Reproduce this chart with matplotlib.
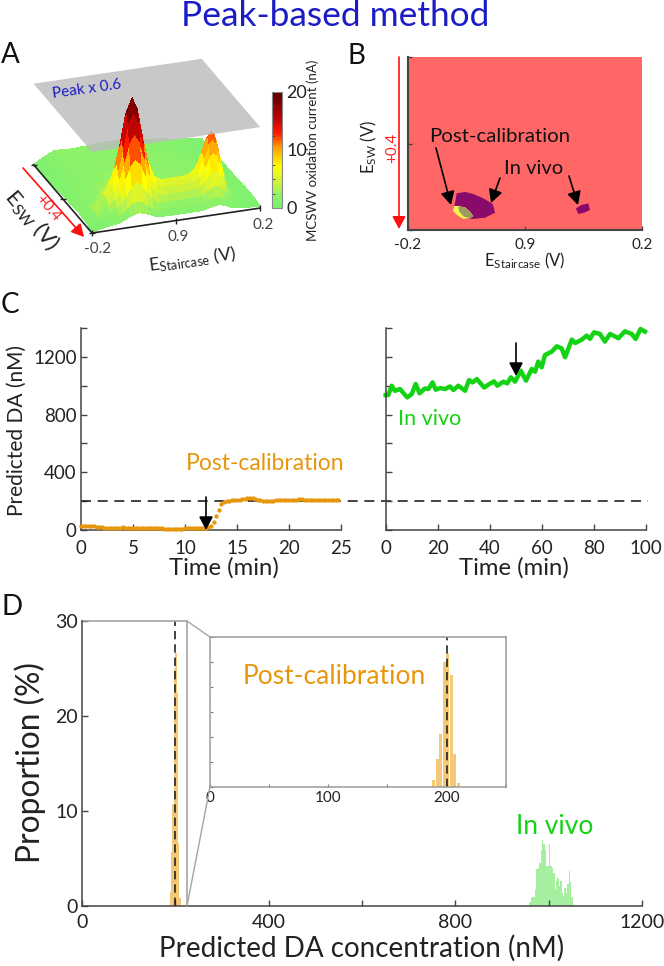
import numpy as np
import matplotlib
matplotlib.use('Agg')
import matplotlib.pyplot as plt
from matplotlib.colors import LinearSegmentedColormap, Normalize
from matplotlib.cm import ScalarMappable
from mpl_toolkits.mplot3d import proj3d

plt.rcParams['font.family'] = ['Lato', 'DejaVu Sans']
plt.rcParams['mathtext.default'] = 'regular'
plt.rcParams['axes.unicode_minus'] = False

W, H = 664, 966
fig = plt.figure(figsize=(W/100, H/100), dpi=100, facecolor='white')

# ---------------- data ----------------
surf_stair = [0, .06, .12, .16, .19, .22, .25, .28, .31, .34, .37, .41, .46, .52, .58, .63, .67, .70, .73, .75, .77, .79, .81, .84, .90, 1]
surf_sw = [0, .02, .04, .06, .08, .10, .12, .14, .16, .18, .20, .22, .25, .30, .36, .45, .6, .8, 1]
surf_current = [
 [.2,.5,.8,.95,1.3,1.7,2,2.2,2,1.7,1.3,1.05,1,1,1,1,1.1,1.3,1.5,1.6,1.5,1.3,1.1,.7,.5,.3],
 [.25,.7,1.5,1.9,2.4,3,3.7,4,3.7,3,2.4,1.9,1.8,1.8,1.8,1.8,2,2.3,2.7,2.8,2.7,2.3,1.8,.8,.55,.35],
 [.3,1,2.3,3.05,3.9,5.1,6.4,7,6.4,5.1,3.9,3,2.8,2.8,2.8,2.85,3.1,3.7,4.3,4.5,4.3,3.7,2.8,1.3,.7,.4],
 [.4,1.3,3.2,4.2,5.5,7.5,9.6,10.5,9.6,7.5,5.5,4.2,3.8,3.8,3.8,3.9,4.4,5.4,6.5,6.8,6.5,5.4,3.8,1.9,.8,.45],
 [.5,1.6,4,5.5,7.3,10.1,13.1,14.5,13.1,10.1,7.3,5.4,4.8,4.8,4.8,4.9,5.7,7.3,8.9,9.4,8.9,7.4,5.2,2.5,.9,.5],
 [.6,1.9,4.45,6.2,8.6,12.3,16.2,18,16.2,12.3,8.6,6.1,5.3,5.3,5.3,5.5,6.5,8.6,10.8,11.4,10.8,8.9,6.2,2.9,1,.6],
 [.7,2,4.6,6.5,9.3,13.5,18,20,18,13.5,9.3,6.4,5.5,5.5,5.5,5.7,6.9,9.2,11.7,12.4,11.7,9.6,6.7,3.1,1,.6],
 [.7,2,4.5,6.4,9,13,17.3,19.2,17.3,13,9,6.2,5.4,5.4,5.4,5.6,6.7,8.9,11.2,11.8,11.2,9.2,6.4,3,1,.6],
 [.7,1.9,4.3,5.9,8.2,11.7,15.3,17,15.3,11.7,8.2,5.8,5.1,5.1,5.1,5.3,6.2,8,9.9,10.4,9.9,8.1,5.7,2.7,1,.6],
 [.7,1.8,3.9,5.4,7.3,10.1,13.1,14.5,13.1,10.1,7.3,5.3,4.7,4.7,4.7,4.8,5.5,6.9,8.4,8.8,8.4,6.9,4.9,2.4,1,.6],
 [.7,1.8,3.6,4.8,6.3,8.5,10.9,12,10.9,8.5,6.3,4.8,4.3,4.3,4.3,4.4,4.9,5.9,6.9,7.2,6.9,5.7,4.1,2.1,1,.6],
 [.8,1.75,3,4.2,5.4,7.1,9,9.8,9,7.1,5.4,4.2,3.8,3.8,3.8,3.9,4.2,5,5.6,5.8,5.6,4.8,3.5,1.9,.95,.6],
 [.8,1.7,2.6,3.5,4.3,5.6,6.9,7.5,6.9,5.6,4.3,3.5,3.2,3.2,3.2,3.2,3.4,3.8,4.2,4.3,4.1,3.5,2.8,1.7,.9,.6],
 [.8,1.6,2.2,2.7,3.2,3.8,4.4,4.8,4.4,3.8,3.2,2.8,2.6,2.6,2.6,2.6,2.7,2.8,2.9,2.9,2.8,2.5,2.1,1.4,.9,.5],
 [.7,1.5,2.2,2.5,2.8,3.1,3.4,3.5,3.4,3.1,2.8,2.5,2.3,2.3,2.3,2.3,2.3,2.3,2.3,2.3,2.2,2,1.8,1.2,.8,.5],
 [.6,1.4,2,2.2,2.3,2.5,2.6,2.6,2.6,2.5,2.3,2.2,2.1,2.1,2.1,2.1,2.1,2.1,2,2,1.9,1.8,1.6,1.1,.8,.4],
 [.4,1.3,1.9,2,2,2.1,2.1,2.1,2.1,2.1,2,2,2,2,2,2,1.9,1.9,1.8,1.8,1.7,1.6,1.4,1,.7,.4],
 [.2,1.2,1.8,1.9,1.9,1.9,1.9,2,2,2,2,2,2,2,1.9,1.8,1.7,1.6,1.5,1.5,1.4,1.3,1.1,.9,.6,.3],
 [0,1,1.8,1.8,1.7,1.7,1.7,1.8,1.8,1.8,1.9,2,2,1.9,1.8,1.6,1.4,1.3,1.2,1.2,1.1,1,.9,.7,.6,.2],
]
plane_level = 13.5

blob_invitro_x = [.209,.245,.280,.323,.363,.373,.330,.280,.245,.209,.192,.202]
blob_invitro_y = [.212,.220,.208,.183,.150,.100,.071,.064,.068,.087,.116,.154]
blob_yellow_x = [.198,.216,.245,.266,.280,.266,.237,.209,.192]
blob_yellow_y = [.139,.139,.131,.106,.081,.068,.064,.087,.112]
blob_olive_x = [.216,.245,.266,.280,.266,.240,.220]
blob_olive_y = [.135,.131,.106,.081,.069,.077,.106]
blob_vivo_x = [.718,.742,.771,.778,.757,.728]
blob_vivo_y = [.125,.145,.154,.116,.102,.092]

post_step = 0.25
post_values = [30,30,29,28,27,25,23,21,19,17,15,13,12,13,15,17,18,17,16,16,15,15,14,14,14,14,13,13,12,12,11,11,10,10,10,10,10,10,10,10,
 11,11,11,12,12,12,13,13,14,18,30,55,95,140,178,196,202,204,205,205,206,208,212,216,219,222,220,216,211,206,203,201,200,201,203,205,206,207,207,207,
 207,208,209,210,212,212,211,210,209,208,208,208,208,208,208,208,208,208,207,205]
vivo_t = [0,1,2.3,3.5,5.5,6.8,8.3,10,11.5,13,15,16.4,18,19.2,20.9,22.8,24.7,26,27.9,30.5,32,33.4,35,37.8,39.8,41.6,42.9,45.2,46.7,48.1,49.7,51.9,53.9,56.1,57.4,58.6,59.9,61.2,63.8,65.7,67.6,68.9,71.5,72.8,75.3,77.2,78.5,80,82.3,84.2,86.2,89.4,91.9,94.5,96,97.9,99.6]
vivo_v = [935,935,1000,965,977,949,919,942,1012,947,981,977,1023,972,984,977,995,970,1000,965,1039,1023,1046,988,1011,1030,1000,1028,1016,1058,1028,1104,1035,1116,1097,1167,1127,1213,1236,1273,1259,1197,1319,1296,1319,1347,1325,1370,1359,1306,1359,1329,1377,1359,1324,1393,1375]
reference_level = 200

hist_post_x = [189,192,195,198,201,204,207,210]
hist_post_y = [1.5,5.7,10.7,25,26.6,22.4,6.6,0.8]
hist_vivo_x = [960,963,966,969,972,975,978,981,984,987,990,993,996,999,1002,1005,1008,1011,1014,1017,1020,1023,1026,1029,1032,1035,1038,1041,1044,1047,1050]
hist_vivo_y = [.4,.9,.9,1,1.8,3.9,4,4.5,5.9,6.9,6.5,5.9,4.2,4.2,6.5,4.2,4,3.5,1.8,2.6,3,2.1,2.6,1.4,1.1,1.9,1.4,2.3,3.7,2.5,1]
dashed_x = 199
bin_width = 3

# ---------------- helpers ----------------
AX = '#444444'; TXT = '#222222'; ORANGE = '#e8960c'; GREEN = '#14d214'; BLUE = '#1c1cc4'

def axpx(l, t, r, b, **kw):
    return fig.add_axes([l/W, 1-b/H, (r-l)/W, (b-t)/H], **kw)

def style(ax, size, pad=3):
    ax.set_facecolor('none')
    ax.spines[['top', 'right']].set_visible(False)
    ax.spines[['left', 'bottom']].set_color(AX)
    ax.spines[['left', 'bottom']].set_linewidth(1.1)
    ax.tick_params(direction='in', length=4, width=1, color=AX, labelcolor=TXT,
                   labelsize=size, pad=3)
    ax.tick_params(axis='x', pad=pad)

# ---------------- A: surface ----------------
cmap = LinearSegmentedColormap.from_list('cur', [
    (0, '#7cf070'), (.11, '#8ef268'), (.22, '#d0f23a'), (.36, '#ffff00'), (.52, '#ffa000'),
    (.65, '#ff1500'), (.8, '#b00000'), (1, '#5a0000')])
norm = Normalize(0, 20)
S0 = 400.0
a3 = axpx(0, 0, S0, S0, projection='3d', proj_type='ortho', computed_zorder=False)
a3.view_init(elev=24.6, azim=-109.6)
a3.set_xlim(0, 1); a3.set_ylim(0, 1); a3.set_zlim(0, 20)
a3.set_box_aspect((1, .976, .739))
a3.set_axis_off()
a3.patch.set_alpha(0)

def project(ax, x, y, z):
    ax.apply_aspect()
    px, py, _ = proj3d.proj_transform(x, y, z, ax.get_proj())
    return ax.transData.transform((px, py))

# size and place the 3-D box on the base corner seen in the picture
p0 = project(a3, 0, 0, 0); p1 = project(a3, 1, 0, 0)
side = S0 * 170.0 / np.hypot(*(p1 - p0))
a3.set_position([0, 0, side/W, side/H])
p0 = project(a3, 0, 0, 0)
dx, dy = 92 - p0[0], (H - 233) - p0[1]
a3.set_position([dx/W, dy/H, side/W, side/H])

T, Sw = np.meshgrid(surf_stair, surf_sw)
Zc = np.array(surf_current, float)
a3.plot_surface(T, Sw, Zc, cmap=cmap, norm=norm, rstride=1, cstride=1, linewidth=0,
                antialiased=False, shade=False, zorder=1)
PX, PY = np.meshgrid([0, 1], [0, 1])
a3.plot_surface(PX, PY, np.full_like(PX, plane_level, dtype=float), color='#bcbcbc',
                alpha=.82, linewidth=0, shade=False, zorder=2)
a3.plot_surface(T[:13, 3:13], Sw[:13, 3:13], Zc[:13, 3:13], cmap=cmap, norm=norm, rstride=1, cstride=1,
                linewidth=0, antialiased=False, shade=False, zorder=3)
a3.plot([0, 1], [0, 0], [0, 0], color='#222222', lw=1.2, zorder=5)
a3.plot([0, 0], [0, 1], [0, 0], color='#222222', lw=1.2, zorder=5)
a3.plot([0, .5, 1], [0, 0, 0], [0, 0, 0], ls='', marker='|', ms=4, color='#222222', zorder=5)
a3.plot([0, 0, 0], [0, .5, 1], [0, 0, 0], ls='', marker='_', ms=4, color='#222222', zorder=5)

cax = axpx(272, 92, 282, 208)
cb = fig.colorbar(ScalarMappable(norm=norm, cmap=cmap), cax=cax)
cb.set_ticks([0, 10, 20])
cb.ax.set_yticks(np.arange(0, 20.1, 2.5), minor=True)
cb.ax.tick_params(which='major', length=0, labelsize=13, labelcolor=TXT, pad=3)
cb.ax.tick_params(which='minor', direction='in', length=2, width=.6, color=AX, right=False, left=True)
cb.outline.set_edgecolor('#888888'); cb.outline.set_linewidth(.8)

# ---------------- B ----------------
b = axpx(407.7, 57, 642, 230)
b.set_xlim(0, 1); b.set_ylim(0, 1)
b.set_facecolor('#ff6666')
b.fill(blob_invitro_x, blob_invitro_y, color='#8a0a6c', lw=0)
b.fill(blob_yellow_x, blob_yellow_y, color='#f6f250', lw=0)
b.fill(blob_olive_x, blob_olive_y, color='#9c9a5c', lw=0)
b.fill(blob_vivo_x, blob_vivo_y, color='#8a0a6c', lw=0)
b.spines[['top', 'right']].set_visible(False)
b.spines[['left', 'bottom']].set_color(AX); b.spines[['left', 'bottom']].set_linewidth(1.5)
b.set_xticks([0, .5, 1]); b.set_xticklabels(['-0.2', '0.9', '0.2'])
b.set_yticks([0, .5, 1]); b.set_yticklabels([])
b.tick_params(direction='in', length=3, width=1, color=AX, labelcolor=TXT, labelsize=11, pad=6)

# ---------------- C ----------------
c1 = axpx(81, 328, 341, 530)
style(c1, 13.5, pad=7)
c1.set_xlim(0, 25); c1.set_ylim(0, 1400)
c1.set_xticks(range(0, 26, 5))
c1.set_yticks(range(0, 1401, 200))
c1.set_yticklabels(['0', '', '400', '', '800', '', '1200', ''])
c1.axhline(reference_level, xmax=(648-81)/260, color='#222222', lw=1.2, dashes=(6, 4), clip_on=False)
c1.plot(np.arange(len(post_values))*post_step, post_values, ls='', marker='o', ms=3.1, mew=0, color=ORANGE, clip_on=False, zorder=3)

c2 = axpx(385.7, 328, 646, 530)
style(c2, 13.5, pad=7)
c2.set_xlim(0, 100); c2.set_ylim(0, 1400)
c2.set_xticks(range(0, 101, 20))
c2.set_yticks(range(0, 1401, 200)); c2.set_yticklabels([])
c2.plot(vivo_t, vivo_v, color=GREEN, lw=3.2, clip_on=False, solid_joinstyle='round')

# ---------------- D ----------------
d = axpx(82, 621, 642, 906)
style(d, 14, pad=6)
d.set_xlim(0, 1200); d.set_ylim(0, 30)
d.set_xticks(range(0, 1201, 200)); d.set_xticklabels(['0', '', '400', '', '800', '', '1200'])
d.set_yticks([0, 10, 20, 30])
d.bar(hist_post_x, hist_post_y, width=bin_width, color='#f5c878', lw=0)
d.bar(hist_vivo_x, hist_vivo_y, width=bin_width, color='#a6eea0', lw=0)
d.plot([dashed_x, dashed_x], [0, 30], color='#222222', lw=1.2, dashes=(5, 3))
d.plot([0, 225, 225], [30, 30, 0], color='#a4a4a4', lw=1.2, clip_on=False)

ins = axpx(210, 637, 505.7, 787)
ins.set_facecolor('white')
ins.set_xlim(0, 250); ins.set_ylim(0, 30)
for s in ins.spines.values():
    s.set_color('#9a9a9a'); s.set_linewidth(1.1)
ins.set_xticks(range(0, 251, 50)); ins.set_xticklabels(['0', '', '100', '', '200', ''])
ins.set_yticks(range(0, 31, 5)); ins.set_yticklabels([])
ins.tick_params(direction='in', length=2.5, width=.8, color='#777777', labelcolor=TXT, labelsize=11, pad=3)
ins.bar(hist_post_x, hist_post_y, width=bin_width*.8, color='#f5c878', lw=0)
ins.plot([200, 200], [0, 30], color='#222222', lw=1.2, dashes=(5, 3))

# ---------------- annotations, in figure pixels ----------------
ov = fig.add_axes([0, 0, 1, 1], zorder=20)
ov.set_xlim(0, W); ov.set_ylim(H, 0); ov.axis('off'); ov.patch.set_alpha(0)

def t(x, y, s, size, color=TXT, rot=0, **kw):
    ov.text(x, y, s, fontsize=size, color=color, rotation=rot, ha='center', va='center',
            rotation_mode='anchor', **kw)

def arr(x0, y0, x1, y1, color='black', lw=1.2, hw=.42, hl=.8, ms=10):
    ov.annotate('', xy=(x1, y1), xytext=(x0, y0),
                arrowprops=dict(arrowstyle=f'-|>,head_width={hw},head_length={hl}', color=color, lw=lw,
                                shrinkA=0, shrinkB=0, mutation_scale=ms))

t(335, 16, 'Peak-based method', 25.4, BLUE)
for lab, x, y in [('A', 10, 55), ('B', 356, 56), ('C', 10, 305), ('D', 12, 607)]:
    t(x, y, lab, 20, '#111111')

# A
t(87, 89, 'Peak x 0.6', 11, BLUE, rot=8)
t(98, 249, '-0.2', 11, '#444444')
t(178, 237, '0.9', 11, '#444444')
t(263, 225, '0.2', 11, '#444444')
t(192, 260, 'E$_{Staircase}$ (V)', 13, TXT, rot=8)
t(32, 220, 'E$_{SW}$ (V)', 16, TXT, rot=-50)
t(48, 208, '+0.4', 11, '#ff2020', rot=-50)
arr(23, 168, 84, 237, color='#ff1010', lw=1.2, hw=.4, hl=.75)
t(313, 150, 'MCSWV oxidation current (nA)', 9.5, TXT, rot=90)

# B
arr(399, 57, 399, 229, color='#ff1010', lw=1.2, hw=.4, hl=.75)
t(392, 148, '+0.4', 11, '#ff2020', rot=90)
t(369, 147, 'E$_{SW}$ (V)', 12, TXT, rot=90)
t(525, 261, 'E$_{Staircase}$ (V)', 12)
t(500, 137, 'Post-calibration', 14.7, '#111111')
t(534, 168, 'In vivo', 14.5, '#111111')
arr(436, 148, 451, 205)
arr(500, 178, 491, 203)
arr(569, 176, 578, 205)

# C
t(17, 431, 'Predicted DA (nM)', 15, TXT, rot=90)
t(224, 568, 'Time (min)', 17.2)
t(514, 568, 'Time (min)', 17.2)
t(265, 463, 'Post-calibration', 16.5, ORANGE)
t(430, 419, 'In vivo', 15.5, GREEN)
arr(206, 497, 206, 530)
arr(516, 343, 516, 376)

# D
t(30, 763, 'Proportion (%)', 22.8, TXT, rot=90)
t(362, 948, 'Predicted DA concentration (nM)', 20)
t(334, 677, 'Post-calibration', 19, ORANGE)
t(555, 826, 'In vivo', 19, GREEN)
ov.plot([187, 210], [621, 637], color='#a4a4a4', lw=1)
ov.plot([187, 210], [906, 787], color='#a4a4a4', lw=1)

fig.savefig('out.png', dpi=100)
